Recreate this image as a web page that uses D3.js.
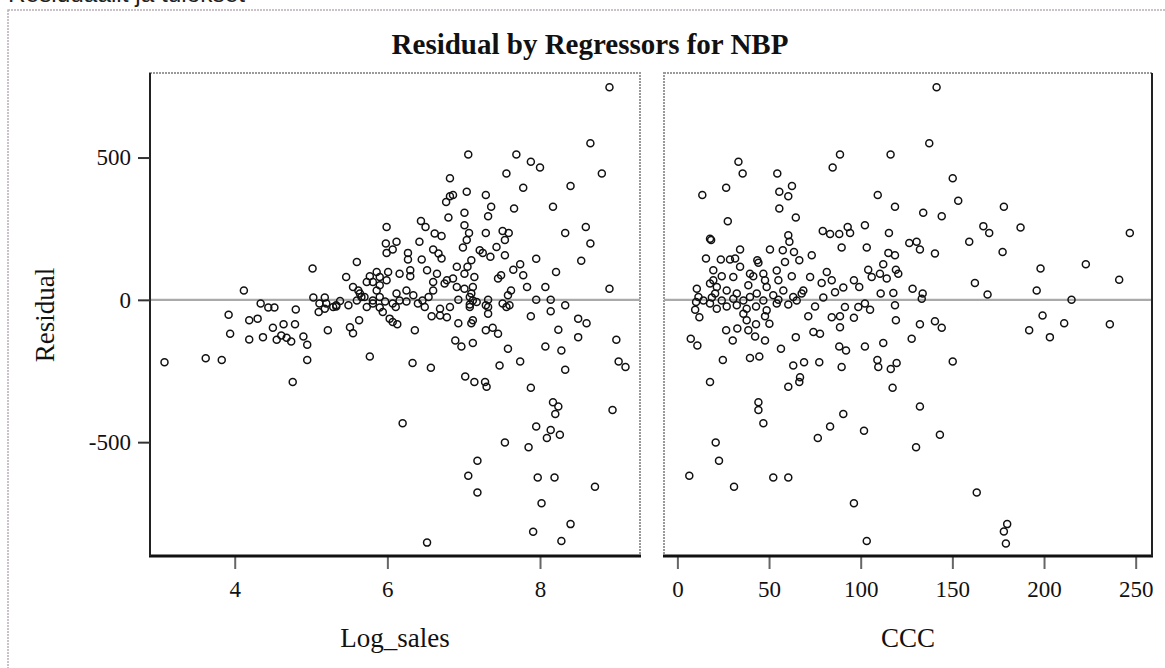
<!DOCTYPE html>
<html>
<head>
<meta charset="utf-8">
<script src="https://cdn.jsdelivr.net/npm/d3@7"></script>
<style>
  html, body { margin: 0; padding: 0; background: #fff; }
  svg { display: block; }
</style>
</head>
<body>
<svg id="chart" width="1165" height="668"></svg>
<script>
// ---------- data ----------
const chartTitle = "Residual by Regressors for NBP";
const pageHeading = "Residuaalit ja tulokset";
const yLabel = "Residual";
const xLabels = ["Log_sales", "CCC"];
const yTicks = [-500, 0, 500];
const logSalesTicks = [4, 6, 8];
const cccTicks = [0, 50, 100, 150, 200, 250];

// [Log_sales, Residual]
const logSalesPoints = [
[8.91,747],[8.66,550],[8.81,444],[8.40,400],[8.17,327],[8.33,235],[8.60,256],[8.66,198],[8.54,137],[8.91,39],
[8.21,98],[7.95,144],[8.07,45],[7.83,45],[7.74,125],[7.78,86],[7.95,0],[8.14,0],[8.33,-19],[7.69,511],
[7.88,485],[8.00,465],[7.56,444],[7.78,394],[7.66,321],[7.06,511],[6.82,427],[6.86,368],[6.82,364],[6.77,344],
[7.04,380],[7.29,368],[7.36,327],[7.32,294],[7.01,306],[6.80,289],[7.01,262],[7.07,235],[7.04,210],[6.99,184],
[7.29,235],[7.51,242],[7.59,235],[7.54,210],[7.43,186],[7.21,174],[7.25,165],[7.35,151],[7.54,157],[7.10,139],
[7.05,116],[6.91,116],[7.01,92],[7.14,80],[7.12,45],[7.01,39],[6.86,75],[6.75,57],[6.60,63],[6.65,92],
[6.52,104],[6.45,142],[6.60,177],[6.71,145],[6.67,163],[6.62,233],[6.71,224],[6.44,277],[6.50,256],[6.42,204],
[6.27,165],[6.27,142],[6.30,104],[6.30,83],[6.16,92],[6.12,204],[5.99,256],[5.98,198],[5.99,165],[6.07,177],
[6.01,98],[5.99,69],[5.86,98],[5.77,83],[5.73,63],[5.60,133],[5.46,80],[5.55,45],[5.62,33],[5.86,33],
[5.90,51],[6.12,22],[6.25,33],[6.34,16],[6.54,10],[5.02,110],[4.12,33],[4.34,-13],[4.44,-27],[4.52,-27],
[4.80,-34],[5.03,8],[5.18,8],[5.11,-13],[5.38,-4],[5.49,-19],[5.66,10],[6.69,-31],[6.82,-25],[6.93,0],
[7.08,10],[7.17,-8],[7.32,0],[7.51,-13],[7.58,16],[7.62,33],[7.49,86],[7.45,75],[7.65,106],[5.29,-25],
[5.73,-25],
[3.08,-219],[3.62,-205],[3.83,-211],[3.92,-52],[3.94,-119],[4.19,-72],[4.30,-66],[4.19,-139],[4.37,-131],[4.50,-98],
[4.64,-86],[4.79,-86],[4.55,-140],[4.61,-125],[4.68,-133],[4.74,-146],[4.90,-129],[4.95,-158],[4.95,-211],[4.76,-289],
[5.10,-43],[5.22,-107],[5.51,-96],[5.55,-117],[5.63,-72],[5.77,-199],[5.94,-43],[6.03,-66],[6.07,-78],[6.13,-86],
[6.11,-25],[6.36,-107],[6.49,-25],[6.58,-58],[6.69,-55],[6.78,-61],[6.93,-82],[7.08,-16],[7.10,-82],[7.12,-72],
[7.32,-49],[7.29,-107],[7.38,-98],[7.45,-119],[7.60,-19],[6.89,-143],[6.97,-164],[7.12,-152],[7.58,-172],[6.33,-222],
[6.57,-239],[7.02,-269],[7.14,-289],[7.28,-289],[7.30,-305],[7.47,-231],[7.74,-217],[7.88,-58],[8.07,-164],[8.14,-40],
[8.24,-105],[8.28,-178],[8.33,-246],[8.50,-66],[8.61,-82],[8.50,-131],[9.00,-140],[9.03,-217],[9.12,-236],[8.95,-387],
[7.88,-309],[8.17,-360],[8.24,-375],[8.20,-401],[7.95,-445],[8.14,-457],[8.26,-474],[8.09,-485],[7.54,-501],[7.85,-518],
[6.20,-434],[7.18,-565],[7.06,-618],[7.18,-677],[7.97,-624],[8.19,-624],[8.72,-657],[8.02,-715],[8.40,-788],[7.91,-815],
[8.28,-847],[6.52,-853],[5.18,-31],[5.33,-19],[5.81,-13],[5.90,-27],[5.97,-6],[6.25,-6],[6.40,-13],[7.08,-25],
[7.32,-25],
[5.20,-13],[5.33,-23],[5.60,-2],[5.70,10],[5.81,-2],[5.90,10],[6.07,-13],[6.16,-2],[6.46,-2],[6.60,33],
[6.78,69],[6.91,45],[7.10,22],[7.12,-2],[7.29,-19],[7.56,-25],[5.90,80],[5.81,63],[5.64,22]
];

// [CCC, Residual]
const cccPoints = [
[141.4,747],[137.4,550],[150.2,427],[153.2,348],[178.1,327],[187.2,254],[166.9,259],[170.1,235],[159.2,204],[177.4,168],
[246.8,235],[198.1,110],[222.8,125],[241.0,71],[162.3,59],[169.2,19],[196.0,33],[215.0,0],[140.5,163],[144.2,294],
[134.1,306],[118.7,327],[116.3,511],[109.3,368],[88.7,511],[84.7,465],[115.4,235],[126.5,200],[130.5,204],[132.3,177],
[115.1,165],[118.7,157],[103.3,184],[102.3,262],[89.6,184],[92.9,256],[94.2,235],[88.3,231],[79.3,242],[83.3,231],
[73.3,157],[66.5,139],[63.6,168],[64.6,289],[62.5,400],[60.5,364],[55.6,380],[54.5,444],[55.6,321],[60.5,227],
[61.1,204],[57.5,174],[50.5,177],[58.7,133],[34.2,177],[33.3,485],[35.6,444],[26.6,394],[13.6,368],[27.5,276],
[18.4,210],[17.8,215],[15.6,145],[23.7,142],[28.7,142],[31.5,145],[43.6,139],[44.2,130],[19.6,104],[24.2,83],
[10.6,39],[17.8,57],[21.5,45],[38.7,51],[41.4,83],[46.9,92],[47.8,69],[54.2,103],[55.1,69],[62.4,83],
[72.4,80],[78.7,59],[81.5,98],[84.2,69],[90.5,43],[96.3,69],[99.2,45],[104.1,106],[106.0,80],[110.5,92],
[112.3,125],[114.2,75],[119.2,106],[120.5,92],[110.9,22],[117.8,24],[128.3,39],[133.8,22],[133.3,4],[79.6,8],
[86.0,27],[67.8,22],[65.1,-2],[55.1,0],[52.3,16],[39.6,10],[30.5,4],[24.2,-2],[18.8,8],[11.5,10],
[10.2,-8],[9.7,-35],[12.0,-61],[7.3,-137],[10.9,-160],[17.8,-13],[21.5,-31],[26.9,-23],[32.4,-19],[36.0,-49],
[37.8,-31],[42.9,-23],[48.7,-37],[54.2,-13],[60.5,-16],[26.6,-107],[30.2,-143],[32.7,-101],[37.8,-72],[42.9,-86],
[38.7,-107],[42.4,-129],[47.8,-143],[50.2,-84],[47.8,-58],[56.5,-172],[64.6,-131],[71.4,-58],[75.1,-23],[74.2,-113],
[77.8,-119],[84.2,-61],[88.7,-58],[88.7,-96],[91.4,-25],[96.3,-63],[98.7,-25],[105.1,-35],[102.3,-13],[88.3,-164],
[92.0,-178],[102.3,-164],[112.3,-152],[119.2,-72],[118.7,-19],[127.8,-137],[132.3,-86],[140.5,-75],[144.2,-98],[24.8,-211],
[39.6,-204],[44.7,-199],[63.2,-231],[69.1,-219],[77.4,-219],[89.6,-236],[109.1,-211],[109.6,-236],[116.4,-243],[119.6,-222],
[150.2,-217],[66.9,-272],[66.5,-289],[60.5,-305],[117.4,-309],[17.8,-289],[44.2,-360],[44.2,-387],[46.9,-434],[90.5,-401],
[83.3,-445],[76.6,-485],[101.8,-460],[132.3,-375],[143.2,-474],[130.2,-518],[20.9,-501],[22.7,-565],[6.5,-618],[30.9,-657],
[52.3,-624],[60.5,-624],[96.3,-715],[103.3,-847],[163.3,-677],[179.9,-788],[178.1,-814],[179.2,-856],[191.9,-107],[199.2,-55],
[203.2,-131],[211.0,-82],[235.9,-86],
[14.2,-2],[20.6,22],[26.9,33],[32.4,22],[36.0,-2],[43.3,22],[46.9,-2],[48.7,45],[57.8,33],[63.2,10],
[68.7,33],[39.6,92],[30.5,80],[19.6,69],[34.2,116]
];

// ---------- layout ----------
const svg = d3.select("#chart");
const serif = "'Liberation Serif', 'Times New Roman', serif";
const plotTop = 73, plotBottom = 556;
const panels = [
  { x0: 150, x1: 640, domain: [2.89, 9.31], ticks: logSalesTicks, data: logSalesPoints, label: xLabels[0], blackSide: "left" },
  { x0: 664, x1: 1152, domain: [-7.3, 258.9], ticks: cccTicks, data: cccPoints, label: xLabels[1], blackSide: "right" }
];
const y = d3.scaleLinear().domain([-900, 797]).range([plotBottom, plotTop]);
const fmt = d => String(d); // hyphen-minus as in the reference

// outer dotted frame
svg.append("rect").attr("x", 8).attr("y", 10).attr("width", 1200).attr("height", 700)
  .attr("fill", "none").attr("stroke", "#b8b0b8").attr("stroke-width", 1.5).attr("stroke-dasharray", "2,1");

// page heading, mostly above the visible area as in the reference
svg.append("text").attr("x", 8).attr("y", 2)
  .attr("font-family", "'Liberation Sans', Arial, sans-serif").attr("font-size", 24)
  .attr("fill", "#222").attr("textLength", 237).attr("lengthAdjust", "spacingAndGlyphs")
  .text(pageHeading);

// title
svg.append("text").attr("x", 590).attr("y", 54).attr("text-anchor", "middle")
  .attr("font-family", serif).attr("font-weight", "bold").attr("font-size", 29).attr("fill", "#111")
  .text(chartTitle);

panels.forEach((p, i) => {
  const x = d3.scaleLinear().domain(p.domain).range([p.x0, p.x1]);
  const g = svg.append("g");

  // gray dotted frame
  g.append("rect").attr("x", p.x0).attr("y", plotTop).attr("width", p.x1 - p.x0).attr("height", plotBottom - plotTop)
    .attr("fill", "none").attr("stroke", "#9a9a9a").attr("stroke-width", 2).attr("stroke-dasharray", "2,1");

  // zero reference line
  g.append("line").attr("x1", p.x0).attr("x2", p.x1).attr("y1", y(0)).attr("y2", y(0))
    .attr("stroke", "#aaaaaa").attr("stroke-width", 2.2);

  // points
  g.append("g").selectAll("circle").data(p.data).join("circle")
    .attr("cx", d => x(d[0])).attr("cy", d => y(d[1])).attr("r", 3.5)
    .attr("fill", "none").attr("stroke", "#111").attr("stroke-width", 1.5);

  // x axis
  const xAxis = d3.axisBottom(x).tickValues(p.ticks).tickSize(13).tickPadding(12).tickFormat(fmt);
  const xa = g.append("g").attr("transform", `translate(0,${plotBottom})`).call(xAxis);
  xa.select(".domain").remove();
  xa.selectAll(".tick line").attr("stroke", "#666").attr("stroke-width", 2);
  xa.selectAll(".tick text").attr("font-family", serif).attr("font-size", 23).attr("fill", "#111")
    .attr("dy", "0.71em");

  // solid black lines
  g.append("line").attr("x1", p.x0 - 1).attr("x2", p.x1 + 1).attr("y1", plotBottom).attr("y2", plotBottom)
    .attr("stroke", "#111").attr("stroke-width", 3);
  const sx = p.blackSide === "left" ? p.x0 : p.x1;
  g.append("line").attr("x1", sx).attr("x2", sx).attr("y1", plotTop).attr("y2", plotBottom)
    .attr("stroke", "#222").attr("stroke-width", 2);

  // x label
  g.append("text").attr("x", (p.x0 + p.x1) / 2).attr("y", 647)
    .attr("text-anchor", "middle").attr("font-family", serif).attr("font-size", 27).attr("fill", "#111")
    .text(p.label);

  if (i === 0) {
    const yAxis = d3.axisLeft(y).tickValues(yTicks).tickSize(12).tickPadding(7).tickFormat(fmt);
    const ya = g.append("g").attr("transform", `translate(${p.x0},0)`).call(yAxis);
    ya.select(".domain").remove();
    ya.selectAll(".tick line").attr("stroke", "#333").attr("stroke-width", 2);
    ya.selectAll(".tick text").attr("font-family", serif).attr("font-size", 23).attr("fill", "#111");
  }
});

// y label
svg.append("text").attr("transform", "translate(54,315) rotate(-90)").attr("text-anchor", "middle")
  .attr("font-family", serif).attr("font-size", 27).attr("fill", "#111").text(yLabel);
</script>
</body>
</html>
